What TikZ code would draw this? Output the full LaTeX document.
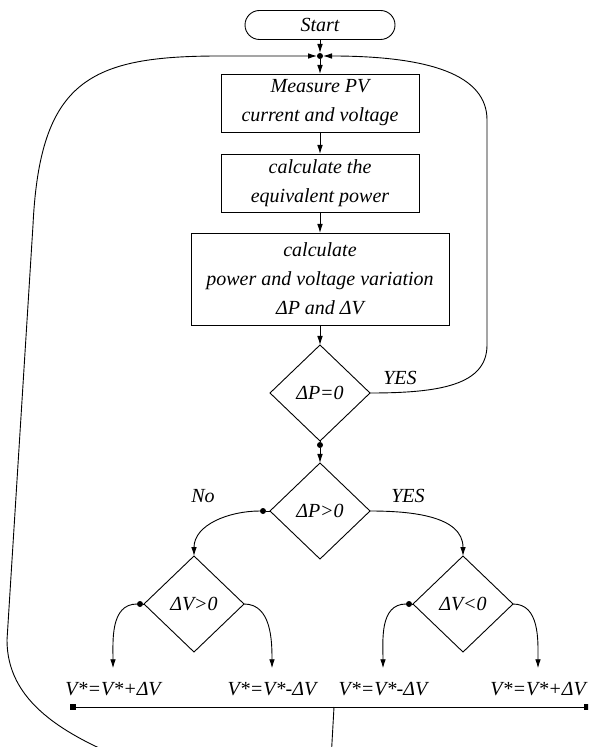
\documentclass[tikz,border=0pt]{standalone}
\usepackage{xcolor}
\usepackage{fontspec}
\setmainfont{Liberation Serif}
\usepackage{tikz}
\usetikzlibrary{arrows.meta,positioning,shapes.geometric}

\begin{document}
\begin{tikzpicture}[x=0.5pt,y=-0.5pt,line width=0.45pt,>={Latex[length=4.5pt,width=2.8pt]},every node/.style={font=\fontsize{10}{14.5}\selectfont\itshape,inner sep=0pt,outer sep=0pt},term/.style={draw,rectangle,rounded corners=7.25pt,minimum width=75pt,minimum height=14.5pt},proc/.style={draw,rectangle,align=center,minimum width=99pt,minimum height=29pt},dec/.style={draw,diamond,minimum width=50pt,minimum height=48pt},dot/.style={circle,fill,minimum size=3pt},sq/.style={rectangle,fill,minimum size=3pt},res/.style={outer ysep=7pt}]
    \useasboundingbox (0,0) rectangle (588,747);
    \clip (0,0) rectangle (588,747);
    \node[term](start) at (320,25){Start};
    \node[dot](join) at (320,56){};
    \node[proc,below=7.5pt of join](meas){Measure PV\\current and voltage};
    \node[proc,below=11pt of meas](power){calculate the\\equivalent power};
    \node[proc,below=10.5pt of power,minimum width=129pt,minimum height=46pt](delta){calculate\\power and voltage variation\\ΔP and ΔV};
    \node[dec,below=10pt of delta](dpz){ΔP=0};
    \node[dot,below=0.5pt of dpz](dpzdot){};
    \node[dec,below=7.5pt of dpzdot](dpp){ΔP>0};
    \node[dot](dppdot) at ([xshift=-3.5pt]dpp.west){};
    \node[dec](dvp) at ([xshift=-63pt,yshift=-46.5pt]dpp.center){ΔV>0};
    \node[dec](dvn) at ([xshift=71.5pt,yshift=-46.5pt]dpp.center){ΔV<0};
    \node[dot](dvpdot) at ([xshift=-2pt]dvp.west){};
    \node[dot](dvndot) at ([xshift=-2pt]dvn.west){};
    \node[res](inca) at (113,689){V*=V*+ΔV};
    \node[res](deca) at (272,689){V*=V*-ΔV};
    \node[res](decb) at (383,689){V*=V*-ΔV};
    \node[res](incb) at (538,689){V*=V*+ΔV};
    \node(yesz) at (400,378){YES};
    \node(nop) at (203,496){No};
    \node(yesp) at (408,496){YES};
    \node[sq](busl) at (73,707){};
    \node[sq](busr) at (587,707){};
    \coordinate (busj) at (334,707);
    \coordinate (bd) at (331,760);
    \coordinate (bh) at (140,765);
    \coordinate (lb) at (7,640);
    \coordinate (lt) at (33,225);
    \coordinate (lr) at (220,56);
    \coordinate (rb) at (487,345);
    \coordinate (rt) at (487,120);
    \draw[->] (start) -- (join);
    \draw[->] (join) -- (meas);
    \draw[->] (meas) -- (power);
    \draw[->] (power) -- (delta);
    \draw[->] (delta) -- (dpz);
    \draw (dpz) -- (dpzdot);
    \draw[->] (dpzdot) -- (dpp);
    \draw[->] (dpz.east) .. controls (440,393) and (487,385) .. (rb) -- (rt) .. controls (487,75) and (430,56) .. (join);
    \draw (dpp.west) -- (dppdot);
    \draw[->] (dppdot) to[out=180,in=90] (dvp.north);
    \draw[->] (dpp.east) to[out=0,in=90] (dvn.north);
    \draw (dvp.west) -- (dvpdot);
    \draw (dvn.west) -- (dvndot);
    \draw[->] (dvpdot) to[out=180,in=90] (inca.north);
    \draw[->] (dvp.east) to[out=0,in=90] (deca.north);
    \draw[->] (dvndot) to[out=180,in=90] (decb.north);
    \draw[->] (dvn.east) to[out=0,in=90] (incb.north);
    \draw (busl) -- (busr);
    \draw[->] (busj) -- (bd) .. controls (329,790) and (200,786) .. (bh) .. controls (60,735) and (7,700) .. (lb) -- (lt) .. controls (40,80) and (90,56) .. (lr) -- (join);
  \end{tikzpicture}
\end{document}
